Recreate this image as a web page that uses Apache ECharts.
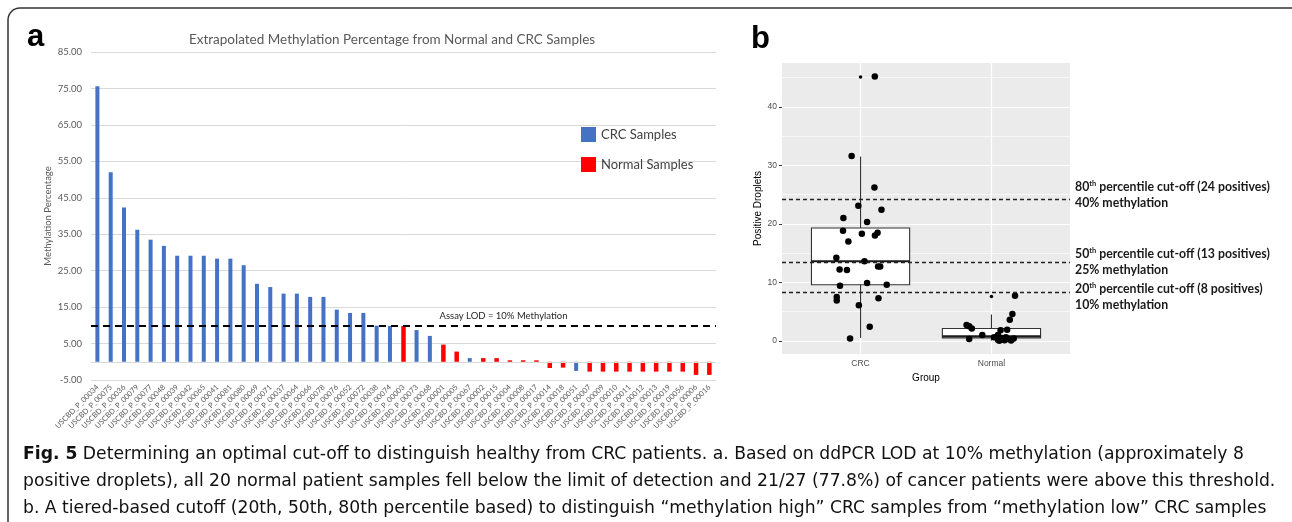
<!DOCTYPE html>
<html>
<head>
<meta charset="utf-8">
<title>Fig. 5</title>
<script src="https://cdn.jsdelivr.net/npm/echarts@6/dist/echarts.min.js"></script>
<style>
  html, body { margin: 0; padding: 0; background: #fff; }
  #main { width: 1292px; height: 522px; }
</style>
</head>
<body>
<div id="main"></div>
<script>
// ---- panel a : extrapolated methylation per sample ----
var sampleIds = ['USCBD_P_00034','USCBD_P_00075','USCBD_P_00036','USCBD_P_00079','USCBD_P_00077','USCBD_P_00048',
  'USCBD_P_00039','USCBD_P_00042','USCBD_P_00065','USCBD_P_00041','USCBD_P_00081','USCBD_P_00080','USCBD_P_00069',
  'USCBD_P_00071','USCBD_P_00037','USCBD_P_00064','USCBD_P_00066','USCBD_P_00078','USCBD_P_00076','USCBD_P_00052',
  'USCBD_P_00072','USCBD_P_00038','USCBD_P_00074','USCBD_P_00003','USCBD_P_00073','USCBD_P_00068','USCBD_P_00001',
  'USCBD_P_00005','USCBD_P_00067','USCBD_P_00002','USCBD_P_00015','USCBD_P_00004','USCBD_P_00008','USCBD_P_00017',
  'USCBD_P_00014','USCBD_P_00018','USCBD_P_00051','USCBD_P_00007','USCBD_P_00009','USCBD_P_00010','USCBD_P_00011',
  'USCBD_P_00012','USCBD_P_00013','USCBD_P_00019','USCBD_P_00056','USCBD_P_00006','USCBD_P_00016'];
var methylation = [75.6, 52.0, 42.3, 36.2, 33.5, 31.8, 29.1, 29.1, 29.1, 28.3, 28.3, 26.5, 21.4, 20.5, 18.7, 18.7,
  17.8, 17.8, 14.3, 13.4, 13.4, 9.9, 9.8, 9.8, 8.7, 7.1, 4.7, 2.8, 1.0, 1.0, 1.0, 0.4, 0.4, 0.4, -1.7, -1.6, -2.5,
  -2.7, -2.7, -2.7, -2.7, -2.7, -2.7, -2.7, -2.7, -3.6, -3.6];
// C = CRC sample, N = normal sample
var sampleGroup = ['C','C','C','C','C','C','C','C','C','C','C','C','C','C','C','C','C','C','C','C','C','C','C',
  'N','C','C','N','N','C','N','N','N','N','N','N','N','C','N','N','N','N','N','N','N','N','N','N'];
var lodValue = 10;

// ---- panel b : positive droplets per group ----
var groups = ['CRC', 'Normal'];
// min, Q1, median, Q3, max (whisker ends)
var boxStats = [[0.5, 9.6, 13.6, 19.3, 31.5], [0.05, 0.5, 0.8, 2.1, 4.5]];
var outlierX = [1, 2];
var outlierY = [45.1, 7.6];
var crcJitterX = [1.109, 0.932, 1.106, 0.983, 1.16, 0.869, 1.05, 0.866, 1.01, 1.13, 1.11, 0.907, 0.815, 1.03,
  0.84, 0.896, 1.134, 1.15, 1.05, 0.843, 1.2, 0.818, 0.818, 1.137, 0.987, 1.07, 0.92];
var crcDroplets = [45.2, 31.6, 26.2, 23.1, 22.4, 21.0, 20.3, 18.8, 18.3, 18.5, 18.0, 17.0, 14.2, 13.6,
  12.2, 12.1, 12.7, 12.7, 9.9, 9.4, 9.6, 7.5, 6.9, 7.3, 6.1, 2.4, 0.4];
var normalJitterX = [2.18, 2.16, 2.14, 1.81, 1.83, 1.85, 1.93, 1.83, 2.07, 2.12, 2.05, 2.05, 2.08, 2.11,
  2.13, 2.15, 2.02, 2.10, 2.17, 2.06];
var normalDroplets = [7.7, 4.6, 3.6, 2.7, 2.5, 2.1, 1.0, 0.3, 1.8, 1.9, 1.0, 0.2, 0.5, 0.6,
  0.3, 0.05, 0.6, 0.1, 0.4, 0.0];
var cutoffs = [24.2, 13.4, 8.3];
var cutoffPct = ['80', '50', '20'];
var cutoffPositives = [24, 13, 8];
var cutoffMeth = ['40%', '25%', '10%'];
var majorY = [0, 10, 20, 30, 40];
var minorY = [5, 15, 25, 35, 45];

var captionLines = [
  '{b|Fig. 5} Determining an optimal cut-off to distinguish healthy from CRC patients. a. Based on ddPCR LOD at 10% methylation (approximately 8',
  'positive droplets), all 20 normal patient samples fell below the limit of detection and 21/27 (77.8%) of cancer patients were above this threshold.',
  'b. A tiered-based cutoff (20th, 50th, 80th percentile based) to distinguish \u201cmethylation high\u201d CRC samples from \u201cmethylation low\u201d CRC samples'
];

var crcBars = methylation.map(function (v, i) { return sampleGroup[i] === 'C' ? v : '-'; });
var normalBars = methylation.map(function (v, i) { return sampleGroup[i] === 'N' ? v : '-'; });
function pairs(xs, ys) { return xs.map(function (x, i) { return [x, ys[i]]; }); }

function renderBox(params, api) {
  var x = api.value(0);
  var lo = api.coord([x, api.value(1)]);
  var q1 = api.coord([x, api.value(2)]);
  var med = api.coord([x, api.value(3)]);
  var q3 = api.coord([x, api.value(4)]);
  var hi = api.coord([x, api.value(5)]);
  var halfW = api.size([0.75, 0])[0] / 2;
  var line = { stroke: '#333', lineWidth: 1.1 };
  return {
    type: 'group',
    children: [
      { type: 'line', shape: { x1: lo[0], y1: lo[1], x2: q1[0], y2: q1[1] }, style: line },
      { type: 'line', shape: { x1: q3[0], y1: q3[1], x2: hi[0], y2: hi[1] }, style: line },
      { type: 'rect', shape: { x: q3[0] - halfW, y: q3[1], width: halfW * 2, height: q1[1] - q3[1] },
        style: { fill: '#fff', stroke: '#333', lineWidth: 1.1 } },
      { type: 'line', shape: { x1: med[0] - halfW, y1: med[1], x2: med[0] + halfW, y2: med[1] },
        style: { stroke: '#1a1a1a', lineWidth: 2 } }
    ]
  };
}

var gridLines = [];
majorY.forEach(function (v) { gridLines.push({ yAxis: v, lineStyle: { color: '#fff', width: 1.2, type: 'solid' } }); });
minorY.forEach(function (v) { gridLines.push({ yAxis: v, lineStyle: { color: '#fff', width: 0.6, type: 'solid' } }); });
outlierX.forEach(function (v) { gridLines.push({ xAxis: v, lineStyle: { color: '#fff', width: 1.2, type: 'solid' } }); });

var cutPad = [[0, 0, 8, 0], [0, 0, 0, 0], [10, 0, 0, 0]];
var cutLines = cutoffs.map(function (v, i) {
  return {
    yAxis: v,
    label: {
      padding: cutPad[i],
      formatter: '{b|' + cutoffPct[i] + '}{sup|th}{b| percentile cut-off (' + cutoffPositives[i] + ' positives)}\n{b|' + cutoffMeth[i] + ' methylation}'
    }
  };
});

var capFont = { fontFamily: 'DejaVu Sans', fontSize: 17.2, fill: '#111', verticalAlign: 'middle' };
function capStyle(text, rich) {
  var s = { text: text, fontFamily: capFont.fontFamily, fontSize: capFont.fontSize, fill: capFont.fill, verticalAlign: capFont.verticalAlign };
  if (rich) s.rich = rich;
  return s;
}

var myChart = echarts.init(document.getElementById('main'), null, { renderer: 'canvas' });

var option = {
  animation: false,
  backgroundColor: '#fff',
  textStyle: { fontFamily: 'Lato' },
  legend: {
    data: ['CRC Samples', 'Normal Samples'],
    orient: 'vertical',
    left: 576, top: 122,
    itemWidth: 15, itemHeight: 15, itemGap: 15,
    icon: 'rect',
    textStyle: { fontFamily: 'Lato', fontSize: 13, color: '#404040' }
  },
  grid: [
    { left: 91, top: 52, width: 625, height: 328 },
    { left: 782, top: 63, width: 288, height: 291, show: true, backgroundColor: '#EBEBEB', borderWidth: 0 }
  ],
  xAxis: [
    {
      type: 'category', gridIndex: 0, data: sampleIds,
      axisLine: { show: false, onZero: false },
      axisTick: { show: false },
      axisLabel: { interval: 0, rotate: 45, fontSize: 7.5, color: '#595959', margin: 6, fontFamily: 'Lato' },
      splitLine: { show: false }
    },
    {
      type: 'value', gridIndex: 1, min: 0.4, max: 2.6,
      axisLine: { show: false },
      axisTick: { show: true, customValues: outlierX, length: 3, lineStyle: { color: '#333' } },
      axisLabel: { customValues: outlierX, formatter: function (v) { return groups[Math.round(v) - 1]; },
        fontFamily: 'Liberation Sans', fontSize: 8.5, color: '#4D4D4D', margin: 5 },
      splitLine: { show: false },
      name: 'Group', nameLocation: 'middle', nameGap: 19,
      nameTextStyle: { fontFamily: 'Liberation Sans', fontSize: 10, color: '#000' }
    }
  ],
  yAxis: [
    {
      type: 'value', gridIndex: 0, min: -5, max: 85, interval: 10,
      axisLine: { show: false }, axisTick: { show: false },
      axisLabel: { formatter: function (v) { return v.toFixed(2); }, fontSize: 9.5, color: '#595959', margin: 9, fontFamily: 'Lato' },
      splitLine: { lineStyle: { color: '#D9D9D9', width: 1 } },
      name: 'Methylation Percentage', nameLocation: 'middle', nameGap: 38,
      nameTextStyle: { fontSize: 9.5, color: '#595959', fontFamily: 'Lato' }
    },
    {
      type: 'value', gridIndex: 1, min: -2.25, max: 47.5,
      axisLine: { show: false },
      axisTick: { show: true, customValues: majorY, length: 3, lineStyle: { color: '#333' } },
      axisLabel: { customValues: majorY, fontFamily: 'Liberation Sans', fontSize: 8.5, color: '#4D4D4D', margin: 5 },
      splitLine: { show: false },
      name: 'Positive Droplets', nameLocation: 'middle', nameGap: 17,
      nameTextStyle: { fontFamily: 'Liberation Sans', fontSize: 10, color: '#000' }
    }
  ],
  series: [
    {
      name: 'CRC Samples', type: 'bar', xAxisIndex: 0, yAxisIndex: 0,
      data: crcBars, barWidth: 4, barGap: '-100%',
      itemStyle: { color: '#4472C4' },
      markLine: {
        silent: true, symbol: 'none',
        data: [
          { yAxis: 0, lineStyle: { color: '#D9D9D9', type: 'solid', width: 1 }, label: { show: false } },
          { yAxis: lodValue, lineStyle: { color: '#000', type: [7, 5], width: 2 },
            label: { show: true, position: 'insideMiddleTop', distance: 4, padding: [0, 0, 0, 200],
              formatter: 'Assay LOD = 10% Methylation', fontFamily: 'Lato', fontSize: 9.5, color: '#262626' } }
        ]
      }
    },
    {
      name: 'Normal Samples', type: 'bar', xAxisIndex: 0, yAxisIndex: 0,
      data: normalBars, barWidth: 4.5, barGap: '-100%',
      itemStyle: { color: '#FF0000' }
    },
    {
      name: 'grid lines', type: 'scatter', xAxisIndex: 1, yAxisIndex: 1, data: [],
      markLine: { silent: true, symbol: 'none', z: 1, label: { show: false }, data: gridLines }
    },
    {
      name: 'box', type: 'custom', xAxisIndex: 1, yAxisIndex: 1, z: 2,
      renderItem: renderBox,
      encode: { x: 0, y: [1, 2, 3, 4, 5] },
      data: boxStats.map(function (s, i) { return [i + 1].concat(s); })
    },
    {
      name: 'outliers', type: 'scatter', xAxisIndex: 1, yAxisIndex: 1, z: 3,
      symbolSize: 3.5, itemStyle: { color: '#000', opacity: 1 },
      data: pairs(outlierX, outlierY)
    },
    {
      name: 'CRC points', type: 'scatter', xAxisIndex: 1, yAxisIndex: 1, z: 4,
      symbolSize: 6.5, itemStyle: { color: '#000', opacity: 1 },
      data: pairs(crcJitterX, crcDroplets)
    },
    {
      name: 'Normal points', type: 'scatter', xAxisIndex: 1, yAxisIndex: 1, z: 4,
      symbolSize: 6.5, itemStyle: { color: '#000', opacity: 1 },
      data: pairs(normalJitterX, normalDroplets),
      markLine: {
        silent: true, symbol: 'none', z: 6,
        lineStyle: { color: '#222', type: [4, 3], width: 1.3 },
        label: {
          show: true, position: 'end', distance: 5,
          rich: {
            b: { fontFamily: 'Lato', fontWeight: 'bold', fontSize: 12.3, color: '#1a1a1a', lineHeight: 16 },
            sup: { fontFamily: 'Lato', fontWeight: 'bold', fontSize: 7.5, color: '#1a1a1a', verticalAlign: 'top' }
          }
        },
        data: cutLines
      }
    }
  ],
  graphic: [
    { type: 'rect', shape: { x: 8, y: 8, width: 1300, height: 600, r: 12 },
      style: { fill: null, stroke: '#333', lineWidth: 1.5 }, silent: true },
    { type: 'text', x: 27, y: 37.5, style: { text: 'a', fontFamily: 'Liberation Sans', fontWeight: 'bold', fontSize: 31, fill: '#000', verticalAlign: 'middle' } },
    { type: 'text', x: 751, y: 39.5, style: { text: 'b', fontFamily: 'Liberation Sans', fontWeight: 'bold', fontSize: 31, fill: '#000', verticalAlign: 'middle' } },
    { type: 'text', x: 392, y: 40, style: { text: 'Extrapolated Methylation Percentage from Normal and CRC Samples',
      fontFamily: 'Lato', fontSize: 13.5, fill: '#595959', align: 'center', verticalAlign: 'middle' } },
    { type: 'text', x: 23, y: 455, style: capStyle(captionLines[0], {
      b: { fontFamily: 'DejaVu Sans', fontWeight: 'bold', fontSize: 17.2, fill: '#111' } }) },
    { type: 'text', x: 23, y: 482, style: capStyle(captionLines[1]) },
    { type: 'text', x: 23, y: 509, style: capStyle(captionLines[2]) }
  ]
};

myChart.setOption(option);
</script>
</body>
</html>
